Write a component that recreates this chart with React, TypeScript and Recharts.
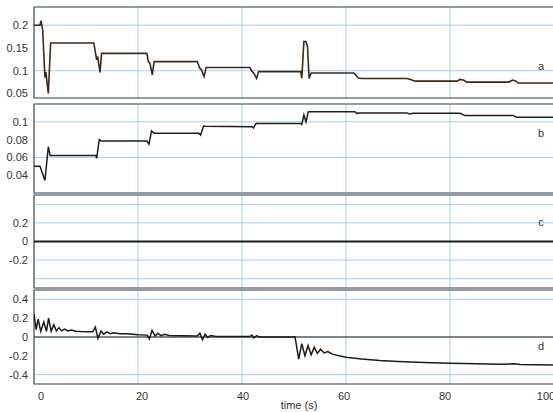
import React from 'react';
import { LineChart, Line, XAxis, YAxis, CartesianGrid, ReferenceArea, ReferenceLine, ReferenceDot } from 'recharts';

// ---- data ----
const xTicks = [0, 20, 40, 60, 80, 100];

const timeA = [0, 1.15, 1.35, 1.67, 2.1, 2.3, 2.45, 2.75, 3.2, 11.5, 11.9, 12.05, 12.25, 12.7, 13.0, 21.7, 22.0, 22.3, 22.75, 23.1, 31.4, 31.9, 32.2, 32.7, 33.1, 41.5, 41.9, 42.3, 42.8, 43.2, 51.3, 51.5, 51.9, 52.3, 52.6, 52.9, 53.3, 61.5, 62.4, 63.0, 71.7, 72.3, 73.3, 81.4, 81.9, 82.7, 83.2, 91.3, 92.05, 92.7, 93.1, 100];
const valuesA = [0.2, 0.2, 0.21, 0.19, 0.085, 0.097, 0.08, 0.05, 0.161, 0.161, 0.134, 0.124, 0.131, 0.096, 0.138, 0.138, 0.12, 0.116, 0.091, 0.12, 0.12, 0.105, 0.102, 0.087, 0.107, 0.107, 0.099, 0.094, 0.083, 0.098, 0.098, 0.083, 0.164, 0.164, 0.153, 0.083, 0.095, 0.095, 0.084, 0.083, 0.083, 0.081, 0.077, 0.077, 0.081, 0.079, 0.075, 0.075, 0.0795, 0.077, 0.073, 0.073];

const timeB = [0, 1.15, 2.1, 2.75, 3.1, 11.9, 12.05, 12.55, 12.9, 21.7, 22.1, 22.6, 23.1, 31.7, 32.05, 32.6, 32.9, 42.0, 42.2, 42.7, 51.3, 51.5, 51.9, 52.3, 52.75, 61.7, 62.05, 62.7, 71.7, 72.3, 72.9, 81.9, 82.9, 92.2, 92.8, 100];
const valuesB = [0.05, 0.05, 0.034, 0.072, 0.062, 0.062, 0.059, 0.08, 0.0785, 0.0785, 0.0748, 0.0897, 0.087, 0.087, 0.085, 0.0953, 0.095, 0.0945, 0.093, 0.098, 0.098, 0.097, 0.1076, 0.1, 0.1113, 0.1113, 0.1095, 0.11, 0.11, 0.1088, 0.1095, 0.1095, 0.107, 0.107, 0.105, 0.105];

const timeC = [0, 100];
const valuesC = [0, 0];

const timeD = [0, 0.4, 0.8, 1.3, 1.9, 2.4, 2.8, 3.3, 3.8, 4.3, 4.8, 5.3, 5.9, 6.5, 7.2, 8, 9, 10.5, 11.3, 11.8, 12.3, 12.9, 13.4, 14.0, 14.6, 15.3, 16.5, 18, 20, 21.8, 22.2, 22.7, 23.3, 23.8, 24.4, 25.1, 26, 28, 31.4, 31.9, 32.4, 32.9, 33.4, 34, 35, 41.5, 41.9, 42.3, 42.8, 43.3, 50.2, 50.9, 51.5, 52.1, 52.7, 53.3, 53.9, 54.5, 55.1, 55.8, 56.5, 57.5, 60, 63, 66.5, 70, 75, 80, 85, 90, 92.5, 93.5, 100];
const valuesD = [0.25, 0.08, 0.19, 0.06, 0.16, 0.06, 0.2, 0.06, 0.13, 0.065, 0.1, 0.065, 0.085, 0.065, 0.075, 0.062, 0.058, 0.055, 0.055, 0.105, -0.015, 0.065, 0.03, 0.055, 0.035, 0.045, 0.035, 0.035, 0.025, 0.02, -0.02, 0.07, 0.01, 0.04, 0.015, 0.03, 0.015, 0.012, 0.01, 0.04, -0.03, 0.03, -0.005, 0.015, 0.005, 0.005, 0.02, -0.01, 0.015, 0, 0, -0.235, -0.07, -0.2, -0.09, -0.19, -0.11, -0.175, -0.13, -0.17, -0.155, -0.185, -0.215, -0.235, -0.25, -0.26, -0.27, -0.28, -0.285, -0.29, -0.285, -0.292, -0.298];

const ticksA = [0.05, 0.1, 0.15, 0.2];
const ticksB = [0.04, 0.06, 0.08, 0.1];
const ticksC = [-0.4, -0.2, 0, 0.2, 0.4];
const ticksD = [-0.4, -0.2, 0, 0.2, 0.4];
const labelsC = [-0.2, 0, 0.2];

const toRows = (t: number[], v: number[]) => t.map((x, i) => ({ t: x, v: v[i] }));

const FONT = '"Liberation Sans", Arial, Helvetica, sans-serif';
const GRID = '#a3cdef';
const FRAME = '#555';
const TEXT = '#333';
const CHART_W = 570;
const MARGIN = { top: 2, right: 16, left: 0, bottom: 2 };

const tickStyle = { fontSize: 11, fill: TEXT, fontFamily: FONT };

const XTick = (props: any) => {
  const { x, y, payload } = props;
  const shift = 7 - payload.value * 0.15;
  return (
    <text x={x + shift} y={y} dy="0.71em" textAnchor="middle" fontSize={11} fill={TEXT} fontFamily={FONT}>
      {payload.value}
    </text>
  );
};

type PanelProps = {
  top: number;
  height: number;
  rows: { t: number; v: number }[];
  domain: [number, number];
  ticks: number[];
  fmt?: (v: number) => string;
  color: string;
  width: number;
  letter: string;
  letterX: number;
  letterY: number;
  bottomAxis?: boolean;
  zeroLine?: boolean;
};

const Panel = (p: PanelProps) => (
  <div style={{ position: 'absolute', left: 0, top: p.top }}>
    <LineChart width={CHART_W} height={p.height} data={p.rows} margin={MARGIN}>
      <CartesianGrid stroke={GRID} strokeWidth={1} />
      {p.bottomAxis ? (
        <XAxis
          type="number"
          dataKey="t"
          domain={[0, 100]}
          ticks={xTicks}
          allowDataOverflow
          axisLine={false}
          tickLine={false}
          height={30}
          tick={<XTick />}
          label={{ value: 'time (s)', position: 'insideBottom', offset: 5, dx: 5, fontSize: 11, fill: TEXT, fontFamily: FONT }}
        />
      ) : (
        <XAxis type="number" dataKey="t" domain={[0, 100]} ticks={xTicks} allowDataOverflow hide />
      )}
      <YAxis
        type="number"
        domain={p.domain}
        ticks={p.ticks}
        allowDataOverflow
        width={34}
        tickSize={4}
        tickMargin={2}
        axisLine={false}
        tickLine={false}
        tick={tickStyle}
        tickFormatter={p.fmt ?? ((v: number) => String(v))}
      />
      {p.zeroLine ? <ReferenceLine y={0} stroke="#222" strokeWidth={1.2} /> : null}
      <Line type="linear" dataKey="v" stroke={p.color} strokeWidth={p.width} dot={false} isAnimationActive={false} />
      <ReferenceArea x1={0} x2={100} y1={p.domain[0]} y2={p.domain[1]} fill="none" fillOpacity={0} stroke={FRAME} strokeWidth={1.2} ifOverflow="visible" />
      <ReferenceDot
        x={p.letterX}
        y={p.letterY}
        r={0}
        fill="none"
        stroke="none"
        ifOverflow="visible"
        label={{ value: p.letter, position: 'center', fontSize: 11, fill: TEXT, fontFamily: FONT }}
      />
    </LineChart>
  </div>
);

export default function App() {
  return (
    <div style={{ position: 'absolute', left: 0, top: 0, width: 553, height: 412, overflow: 'hidden', background: '#fff' }}>
      <Panel top={5} height={95} rows={toRows(timeA, valuesA)} domain={[0.04, 0.24]} ticks={ticksA} color="#3c2a1c" width={1.6} letter="a" letterX={97.5} letterY={0.11} />
      <Panel top={102} height={93} rows={toRows(timeB, valuesB)} domain={[0.02, 0.12]} ticks={ticksB} color="#1e1e1e" width={1.5} letter="b" letterX={97.5} letterY={0.087} />
      <Panel
        top={192.5}
        height={97}
        rows={toRows(timeC, valuesC)}
        domain={[-0.5, 0.5]}
        ticks={ticksC}
        fmt={(v: number) => (labelsC.includes(v) ? String(v) : '')}
        color="#1a1a1a"
        width={2}
        letter="c"
        letterX={97.5}
        letterY={0.21}
      />
      <Panel top={288} height={128} rows={toRows(timeD, valuesD)} domain={[-0.5, 0.5]} ticks={ticksD} color="#1a1a1a" width={1.5} letter="d" letterX={97.5} letterY={-0.1} bottomAxis zeroLine />
    </div>
  );
}
